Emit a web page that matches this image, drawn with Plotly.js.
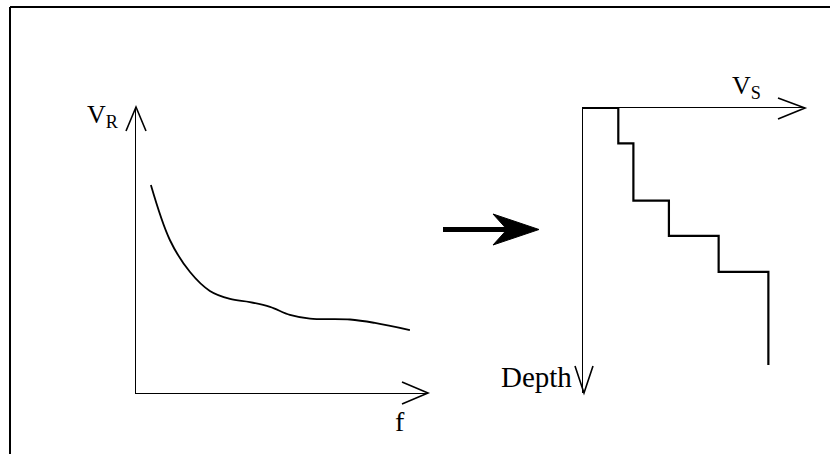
<!DOCTYPE html>
<html>
<head>
<meta charset="utf-8">
<script src="https://cdn.plot.ly/plotly-3.0.1.min.js"></script>
<style>html,body{margin:0;padding:0;background:#fff;}#chart{width:830px;height:454px;}</style>
</head>
<body>
<div id="chart"></div>
<script>
// Left panel: dispersion curve V_R(f) (arbitrary units)
const freq = [0.51, 1.16, 1.85, 2.53, 3.22, 3.90, 4.59, 5.27, 5.96, 7.33, 8.18, 9.38];
const rayleighVel = [7.27, 5.35, 4.23, 3.57, 3.29, 3.18, 3.01, 2.73, 2.60, 2.57, 2.45, 2.20];

// Right panel: layered shear-wave velocity profile (arbitrary units)
const layerVs = [1.59, 2.27, 3.87, 6.11, 8.35];
const layerTop = [0, 1.24, 3.25, 4.49, 5.75];
const profileBottom = 9.02;

// Text labels
const labelVR = 'V<sub>R</sub>';
const labelF = 'f';
const labelVS = 'V<sub>S</sub>';
const labelDepth = 'Depth';

const W = 830, H = 454;
const px = x => x / W;
const py = y => 1 - y / H;
const pt = (x, y) => px(x) + ',' + py(y);

// Step profile built from layers
const stepX = [0].concat(layerVs, [layerVs[layerVs.length - 1]]);
const stepY = [0].concat(layerTop, [profileBottom]);

const font = {family: 'Liberation Serif, Times New Roman, serif', color: '#000'};

const traces = [
  {x: freq, y: rayleighVel, type: 'scatter', mode: 'lines', xaxis: 'x', yaxis: 'y',
   line: {color: '#000', width: 1.8, shape: 'spline', smoothing: 1}, hoverinfo: 'skip'},
  {x: stepX, y: stepY, type: 'scatter', mode: 'lines', xaxis: 'x2', yaxis: 'y2',
   line: {color: '#000', width: 2.2, shape: 'vh'}, hoverinfo: 'skip'}
];

const axBase = {showgrid: false, zeroline: false, showticklabels: false, ticks: '',
  showline: true, linecolor: '#000', linewidth: 1.3, fixedrange: true};

const chevron = (a, tip, b) => ({type: 'path', xref: 'paper', yref: 'paper',
  path: 'M' + pt(a[0], a[1]) + ' L' + pt(tip[0], tip[1]) + ' L' + pt(b[0], b[1]),
  line: {color: '#000', width: 1.6}});

const shapes = [
  // outer frame (only top and left edges fall inside the picture)
  {type: 'line', xref: 'paper', yref: 'paper', x0: px(10), y0: py(7), x1: 1.2, y1: py(7),
   line: {color: '#000', width: 2}},
  {type: 'line', xref: 'paper', yref: 'paper', x0: px(10), y0: py(7), x1: px(10), y1: -0.2,
   line: {color: '#000', width: 2}},
  // axis arrowheads
  chevron([126, 131], [136, 107], [146, 131]),
  chevron([402, 382], [428, 393], [402, 404]),
  chevron([778, 98], [805, 108], [778, 119]),
  chevron([575, 366], [584, 393], [593, 366]),
  // big transformation arrow: shaft
  {type: 'line', xref: 'paper', yref: 'paper', x0: px(443), y0: py(229.5), x1: px(512), y1: py(229.5),
   line: {color: '#000', width: 5}},
  // head
  {type: 'path', xref: 'paper', yref: 'paper',
   path: 'M' + pt(539, 229.5) + ' L' + pt(493, 214) + ' L' + pt(507, 229.5) + ' L' + pt(493, 245) + ' Z',
   fillcolor: '#000', line: {color: '#000', width: 1}}
];

const ann = (text, x, y, xa, ya, size) => ({text: text, xref: 'paper', yref: 'paper',
  x: px(x), y: py(y), xanchor: xa, yanchor: ya, showarrow: false,
  font: {family: font.family, color: font.color, size: size}});

const layout = {
  width: W, height: H, margin: {l: 0, r: 0, t: 0, b: 0},
  paper_bgcolor: '#fff', plot_bgcolor: 'rgba(0,0,0,0)', showlegend: false,
  font: {family: font.family, color: '#000', size: 26},
  xaxis: Object.assign({}, axBase, {domain: [px(136), px(428)], range: [0, 10], anchor: 'y'}),
  yaxis: Object.assign({}, axBase, {domain: [py(393), py(107)], range: [0, 10], anchor: 'x'}),
  xaxis2: Object.assign({}, axBase, {domain: [px(583), px(805)], range: [0, 10], anchor: 'y2', side: 'top'}),
  yaxis2: Object.assign({}, axBase, {domain: [py(393), py(108)], range: [10, 0], anchor: 'x2'}),
  shapes: shapes,
  annotations: [
    ann(labelVR, 121, 116, 'right', 'middle', 26),
    ann(labelF, 400, 421, 'center', 'middle', 28),
    ann(labelVS, 746, 87, 'center', 'middle', 26),
    ann(labelDepth, 574, 377, 'right', 'middle', 29)
  ]
};

Plotly.newPlot('chart', traces, layout, {staticPlot: true, displayModeBar: false});
</script>
</body>
</html>
